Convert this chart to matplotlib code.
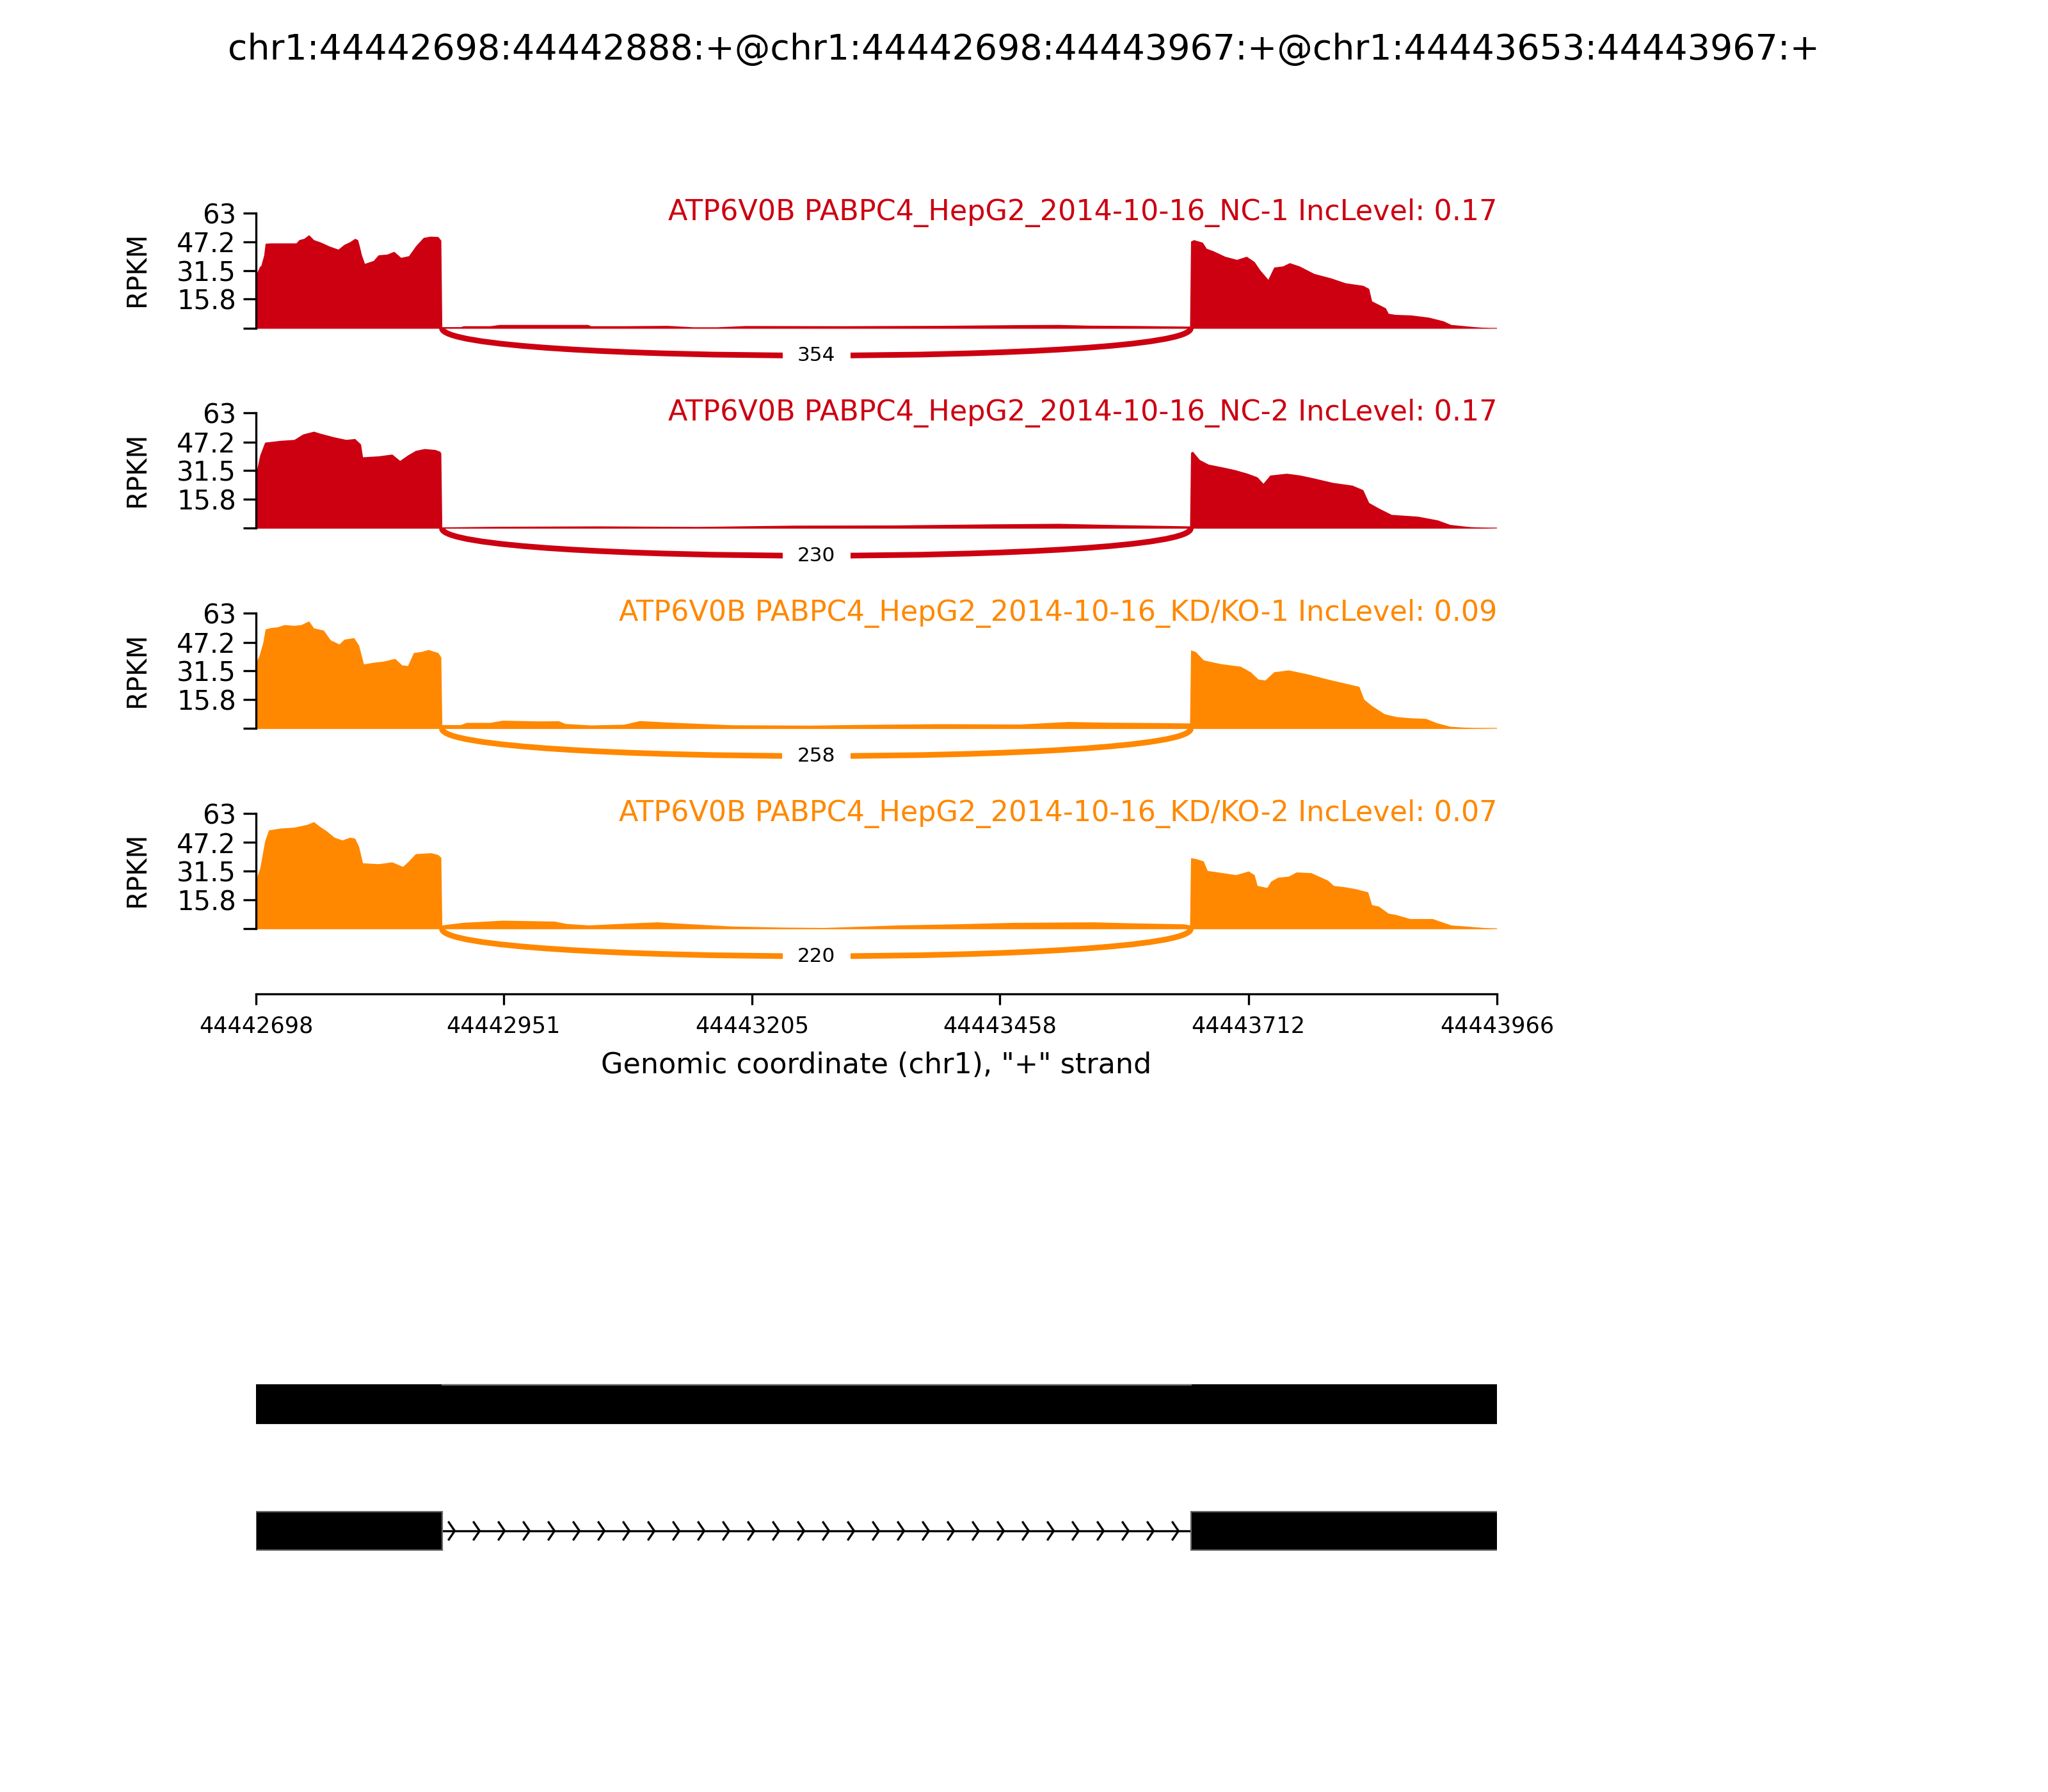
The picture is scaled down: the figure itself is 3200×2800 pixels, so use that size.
import numpy as np
import matplotlib
matplotlib.use('Agg')
import matplotlib.pyplot as plt
from matplotlib.path import Path
from matplotlib.patches import PathPatch, Rectangle

# Evento y coordenadas
title = 'chr1:44442698:44442888:+@chr1:44442698:44443967:+@chr1:44443653:44443967:+'
start = 44442698
end = 44443966
exon1 = (44442698, 44442888)
exon2 = (44443653, 44443967)
xticks = [44442698, 44442951, 44443205, 44443458, 44443712, 44443966]
yticks = [0, 15.8, 31.5, 47.2, 63]
ymax = 63

labels = ['ATP6V0B PABPC4_HepG2_2014-10-16_NC-1 IncLevel: 0.17',
          'ATP6V0B PABPC4_HepG2_2014-10-16_NC-2 IncLevel: 0.17',
          'ATP6V0B PABPC4_HepG2_2014-10-16_KD/KO-1 IncLevel: 0.09',
          'ATP6V0B PABPC4_HepG2_2014-10-16_KD/KO-2 IncLevel: 0.07']
colors = ['#CC0011', '#CC0011', '#FF8800', '#FF8800']
junction_counts = [354, 230, 258, 220]

# Cobertura (posición relativa al inicio, RPKM)
nc1_pos = [0, 1, 4, 5, 8, 9.5, 15, 29, 41, 44, 49, 54, 59, 66, 75, 84, 90, 96, 101, 104, 106, 108, 111,
           120, 125, 134, 141, 148, 156, 163, 171, 178, 186, 189,
           190, 209, 212, 239, 249, 339, 342, 378, 420, 447, 471, 500, 600, 700, 780, 820, 850, 900, 950, 954,
           955, 958, 967, 971, 978, 990, 1002, 1012, 1020, 1026, 1034, 1040, 1049, 1056, 1066, 1081, 1098,
           1113, 1131, 1137, 1140, 1154, 1157, 1164, 1180, 1198, 1213, 1221, 1245, 1262, 1268]
nc1_cov = [29.8, 30.4, 33.9, 34, 39.8, 46.3, 46.5, 46.5, 46.5, 48.3, 49, 51, 48.3, 47, 44.8, 43.1, 45.7, 47.2,
           49, 48.3, 44.3, 39.8, 35.3, 36.9, 40, 40.4, 41.9, 38.6, 39.5, 44.8, 49.5, 50.2, 50, 48,
           0.7, 0.7, 1.2, 1.2, 1.9, 1.9, 1.2, 1.2, 1.4, 0.6, 0.6, 1.3, 1.2, 1.4, 1.8, 1.9, 1.5, 1.3, 1.0, 1.0,
           47.5, 48.3, 46.9, 43.6, 42.2, 39.2, 37.5, 39.2, 36.3, 31.6, 26.6, 33.3, 33.9, 35.7, 33.9, 29.8, 27.4,
           24.7, 23.3, 21.6, 14.8, 11, 8, 7.4, 7.1, 5.9, 3.9, 1.9, 0.7, 0, 0]

nc2_pos = [0, 4, 9, 25, 39, 48, 59, 65, 79, 92, 101, 107, 109, 125, 139, 147, 155, 163, 172, 183, 188, 189,
           190, 250, 350, 450, 550, 650, 750, 820, 880, 954,
           955, 957, 964, 973, 987, 1000, 1013, 1023, 1029, 1036, 1053, 1067, 1080, 1100, 1120, 1131, 1137,
           1147, 1160, 1187, 1207, 1220, 1240, 1260, 1268]
nc2_cov = [30, 40, 47, 48, 48.5, 51.5, 53, 52, 50, 48.5, 49, 46, 39, 39.5, 40.5, 37, 40, 42.5, 43.5, 43, 42, 41,
           0.6, 1.0, 1.2, 0.9, 1.6, 1.7, 2.3, 2.6, 1.9, 1.2,
           41.5, 42, 37.5, 35, 33.5, 32, 30, 28, 24.5, 29, 30, 29, 27.5, 25, 23.5, 21, 14,
           11, 7.5, 6.5, 4.5, 2, 0.8, 0.2, 0]

kd1_pos = [0, 3, 7, 9.5, 15, 22, 29, 39, 46, 54, 59, 69, 76, 85, 90, 100, 105, 110, 120, 130, 142, 149, 155,
           161, 169, 176, 186, 189,
           190, 209, 215, 239, 252, 289, 309, 316, 342, 376, 392, 420, 486, 566, 620, 700, 780, 830, 870, 920, 954,
           955, 960, 968, 985, 1006, 1016, 1024, 1031, 1040, 1055, 1073, 1095, 1115, 1127, 1132, 1140, 1153,
           1165, 1180, 1195, 1207, 1220, 1245, 1268]
kd1_cov = [36.2, 39.5, 46.8, 54.4, 55.2, 55.6, 56.8, 56.4, 56.8, 58.8, 55, 53.8, 48.5, 46.2, 48.8, 49.7, 45.6,
           35.3, 36.2, 36.8, 38.3, 34.8, 34.4, 41.5, 42.1, 43.2, 41.5, 39.1,
           2.1, 2.1, 3.3, 3.3, 4.5, 4.1, 4.2, 2.7, 1.9, 2.3, 4.3, 3.5, 2.0, 1.8, 2.2, 2.6, 2.4, 3.8, 3.4, 3.2, 3.0,
           43, 42, 37.5, 35.5, 34, 31, 27, 26.5, 31, 32, 30, 27, 24.5, 23, 16, 12.5, 8,
           6.5, 5.8, 5.5, 3, 1.2, 0.3, 0]

kd2_pos = [0, 4, 9, 13, 25, 39, 52, 59, 65, 72, 80, 88, 96, 101, 105, 109, 125, 139, 150, 156, 163, 179, 186, 189,
           190, 211, 252, 305, 317, 340, 387, 410, 445, 486, 539, 580, 656, 714, 773, 855, 890, 948, 954,
           955, 961, 968, 972, 980, 995, 1001, 1014, 1020, 1023, 1033, 1037, 1044, 1055, 1063, 1078, 1085,
           1095, 1101, 1111, 1123, 1136, 1140, 1147, 1157, 1164, 1179, 1202, 1221, 1236, 1268]
kd2_cov = [27, 33, 48, 54, 55, 55.5, 57, 58.5, 56, 53.5, 50, 48.5, 50, 49.5, 45, 36, 35.5, 36.5, 34, 37, 41,
           41.5, 40.5, 39,
           2.0, 3.4, 4.6, 4.1, 2.8, 2.0, 3.2, 3.7, 2.6, 1.4, 0.8, 0.6, 2.0, 2.6, 3.4, 3.7, 3.2, 2.6, 2.0,
           38.8, 38.2, 37, 31.8, 31.2, 30, 29.5, 31.5, 29.5, 23.6, 22.5, 26, 28.1, 28.7, 31, 30.6, 28.9,
           26.5, 23.6, 23, 21.9, 20.1, 13.1, 12.3, 8.4, 7.8, 5.5, 5.5, 2, 1.4, 0]

positions = [nc1_pos, nc2_pos, kd1_pos, kd2_pos]
coverages = [nc1_cov, nc2_cov, kd1_cov, kd2_cov]

fig = plt.figure(figsize=(8, 7), dpi=400)
fig.text(0.5, 0.972, title, ha='center', va='center', fontsize=10)

left, width = 0.125, 0.606
tops = [0.8812, 0.7695, 0.6577, 0.5460]
height = 0.1008
ylow = -35.8

for i in range(4):
    ax = fig.add_axes([left, tops[i] - height, width, height])
    x = start + np.array(positions[i])
    ax.fill_between(x, coverages[i], 0, color=colors[i], linewidth=0)
    ax.axhline(0, color=colors[i], lw=0.4, alpha=0.6)

    # Arco de unión
    d = 20
    verts = [(exon1[1], 0), (exon1[1], -d), (exon2[0], -d), (exon2[0], 0)]
    codes = [Path.MOVETO, Path.CURVE4, Path.CURVE4, Path.CURVE4]
    ax.add_patch(PathPatch(Path(verts, codes), fc='none', ec=colors[i], lw=1.6))
    mid = (exon1[1] + exon2[0]) / 2
    ax.text(mid, -0.75 * d, str(junction_counts[i]), ha='center', va='center', fontsize=5.6,
            bbox=dict(boxstyle='square,pad=0.75', fc='white', ec='none'), zorder=5)

    ax.text(1.0, 1.0, labels[i], transform=ax.transAxes, ha='right', va='center',
            color=colors[i], fontsize=8)

    ax.set_xlim(start, end)
    ax.set_ylim(ylow, ymax)
    ax.set_yticks(yticks)
    ax.set_yticklabels([''] + [str(v) for v in yticks[1:]], fontsize=7.5)
    ax.set_ylabel('RPKM', fontsize=7.5)
    ax.yaxis.set_label_coords(-0.085, 0.69)
    ax.spines['top'].set_visible(False)
    ax.spines['right'].set_visible(False)
    ax.spines['left'].set_bounds(0, ymax)
    ax.spines['left'].set_linewidth(0.6)
    ax.tick_params(axis='y', length=3.6, width=0.6, pad=2)
    if i < 3:
        ax.spines['bottom'].set_visible(False)
        ax.set_xticks([])
    else:
        ax.spines['bottom'].set_linewidth(0.6)
        ax.set_xticks(xticks)
        ax.set_xticklabels([str(t) for t in xticks], fontsize=6.3)
        ax.tick_params(axis='x', length=3, width=0.6, pad=3)
        ax.set_xlabel('Genomic coordinate (chr1), "+" strand', fontsize=8, labelpad=4)

# Modelo de genes
gax = fig.add_axes([left, 0.08, width, 0.20])
gax.set_xlim(start, end)
gax.set_ylim(0, 1)
gax.axis('off')
h = 0.107
y1, y2 = 0.682, 0.3285
gax.add_patch(Rectangle((exon1[0], y1 - h / 2), exon2[1] - exon1[0], h, fc='black', ec='black', lw=0.4))
gax.plot([exon1[1], exon2[0]], [y1 + h / 2, y1 + h / 2], color='#666666', lw=0.4)

gax.plot([exon1[1], exon2[0]], [y2, y2], color='black', lw=0.6)
for xc in np.arange(exon1[1] + 13, exon2[0] - 8, 25.5):
    gax.plot([xc - 6, xc, xc - 6], [y2 + 0.024, y2, y2 - 0.024], color='black', lw=0.6)
gax.add_patch(Rectangle((exon1[0], y2 - h / 2), exon1[1] - exon1[0], h, fc='black', ec='#666666', lw=0.4, zorder=3))
gax.add_patch(Rectangle((exon2[0], y2 - h / 2), exon2[1] - exon2[0], h, fc='black', ec='#666666', lw=0.4, zorder=3))

fig.savefig('out.png', dpi=400)
